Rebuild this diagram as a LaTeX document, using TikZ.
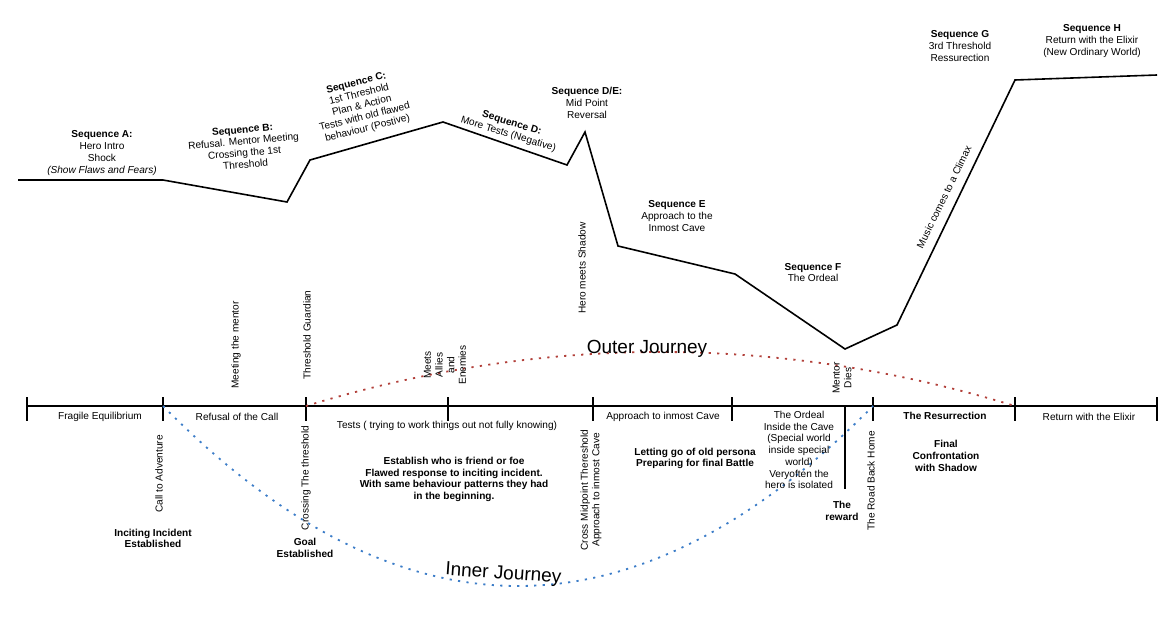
\documentclass[tikz,border=0pt]{standalone}
\usepackage{fontspec}
\setmainfont{Liberation Sans}
\definecolor{outerred}{RGB}{178,64,58}
\definecolor{innerblue}{RGB}{60,125,200}
\begin{document}
\begin{tikzpicture}[x=1pt,y=-1pt,
  lbl/.style={font=\fontsize{10.1}{11.7}\selectfont, align=center, inner sep=0pt},
  blbl/.style={font=\fontsize{10.1}{11.7}\selectfont\bfseries, align=center, inner sep=0pt},
  big/.style={font=\fontsize{19}{22}\selectfont, inner sep=0pt},
  arcline/.style={line width=1.6pt, line join=miter},
  tline/.style={line width=2pt},
  tick/.style={line width=1.8pt},
  outerj/.style={draw=outerred, line width=1.8pt, dash pattern=on 2.2pt off 6.3pt},
  innerj/.style={draw=innerblue, line width=1.8pt, dash pattern=on 2.2pt off 6.3pt}
]
\useasboundingbox (0,0) rectangle (1174,621);

% story arc
\coordinate (a1) at (18,180);
\coordinate (a2) at (163,180);
\coordinate (a3) at (287,202);
\coordinate (a4) at (310,160);
\coordinate (a5) at (443,122);
\coordinate (a6) at (567,165);
\coordinate (a7) at (585,132);
\coordinate (a8) at (618,246);
\coordinate (a9) at (735,274);
\coordinate (a10) at (845,349);
\coordinate (a11) at (897,325);
\coordinate (a12) at (1015,80);
\coordinate (a13) at (1157,75);
\draw[arcline] (a1) -- (a2) -- (a3) -- (a4) -- (a5) -- (a6) -- (a7) -- (a8) -- (a9) -- (a10) -- (a11) -- (a12) -- (a13);

% timeline
\coordinate (t0) at (27,406);
\coordinate (t1) at (163,406);
\coordinate (t2) at (306,406);
\coordinate (t3) at (448,406);
\coordinate (t4) at (593,406);
\coordinate (t5) at (732,406);
\coordinate (t6) at (873,406);
\coordinate (t7) at (1015,406);
\coordinate (t8) at (1157,406);
\coordinate (tr) at (845,406);
\coordinate (trb) at (845,489);
\draw[tline] (t0) -- (t8);
\foreach \t in {t0,t1,t2,t3,t4,t5,t6,t7,t8}{
  \draw[tick] ([yshift=9pt]\t) -- ([yshift=-15pt]\t);
}
\draw[tick] (tr) -- (trb);

% journeys
\draw[outerj] (t2) .. controls (542,334) and (779,334) .. (t7);
\draw[innerj] (t1) .. controls (400,646) and (636,646) .. (t6);
\node[big, anchor=base] (outer) at (647,353) {Outer Journey};
\node[big, anchor=base, rotate=-4] (inner) at (503,579) {Inner Journey};

% sequence labels
\node[lbl] (sa) at (102,153) {\textbf{Sequence A:}\\Hero Intro\\Shock\\\textit{(Show Flaws and Fears)}};
\node[lbl, rotate=5] (sb) at (244,147) {\textbf{Sequence B:}\\Refusal. Mentor Meeting\\Crossing the 1st\\Threshold};
\node[lbl, rotate=14] (sc) at (362,106) {\textbf{Sequence C:}\\1st Threshold\\Plan \& Action\\Tests with old flawed\\behaviour (Postive)};
\node[lbl, rotate=-17] (sd) at (510,129) {\textbf{Sequence D:}\\More Tests (Negative)};
\node[lbl] (sde) at (587,103) {\textbf{Sequence D/E:}\\Mid Point\\Reversal};
\node[lbl] (se) at (677,216) {\textbf{Sequence E}\\Approach to the\\Inmost Cave};
\node[lbl] (sf) at (813,272.5) {\textbf{Sequence F}\\The Ordeal};
\node[lbl] (sg) at (960,46) {\textbf{Sequence G}\\3rd Threshold\\Ressurection};
\node[lbl] (sh) at (1092,41) {\textbf{Sequence H}\\Return with the Elixir\\(New Ordinary World)};
\node[lbl, rotate=64] (music) at (944,197) {Music comes to a Climax};
\node[lbl, rotate=90] (shadow) at (582,268) {Hero meets Shadow};

% labels above timeline
\node[lbl, rotate=90] (mentor) at (236,345) {Meeting the mentor};
\node[lbl, rotate=90] (guardian) at (307,335) {Threshold Guardian};
\node[lbl, rotate=90] (allies) at (445,365) {Meets\\Allies\\and\\Enemies};
\node[lbl, rotate=90] (dies) at (842,378) {Mentor\\Dies};

% timeline labels
\node[lbl] (p1) at (100,417) {Fragile Equilibrium};
\node[lbl] (p2) at (237,417) {Refusal of the Call};
\node[lbl] (p3) at (447,426) {Tests ( trying to work things out not fully knowing)};
\node[lbl] (p4) at (663,417) {Approach to inmost Cave};
\node[lbl] (p5) at (799,450) {The Ordeal\\Inside the Cave\\(Special world\\inside special\\world)\\Veryoften the\\hero is isolated};
\node[blbl] (p6) at (945,416) {The Resurrection};
\node[lbl] (p7) at (1089,417) {Return with the Elixir};

% labels below timeline
\node[lbl, rotate=90] (call) at (159,474) {Call to Adventure};
\node[blbl] (incite) at (153,538.5) {Inciting Incident\\Established};
\node[lbl, rotate=90] (cross) at (306,478) {Crossing The threshold};
\node[blbl] (goal) at (305,548) {Goal\\Established};
\node[blbl] (friend) at (454,479.5) {Establish who is friend or foe\\Flawed response to inciting incident.\\With same behaviour patterns they had\\in the beginning.};
\node[lbl, rotate=90] (mid) at (591,490) {Cross Midpoint Thereshold\\Approach to inmost Cave};
\node[blbl] (letting) at (695,458.5) {Letting go of old persona\\Preparing for final Battle};
\node[blbl] (reward) at (842,511) {The\\reward};
\node[lbl, rotate=90] (road) at (871,481) {The Road Back Home};
\node[blbl] (final) at (946,456) {Final\\Confrontation\\with Shadow};
\end{tikzpicture}
\end{document}
